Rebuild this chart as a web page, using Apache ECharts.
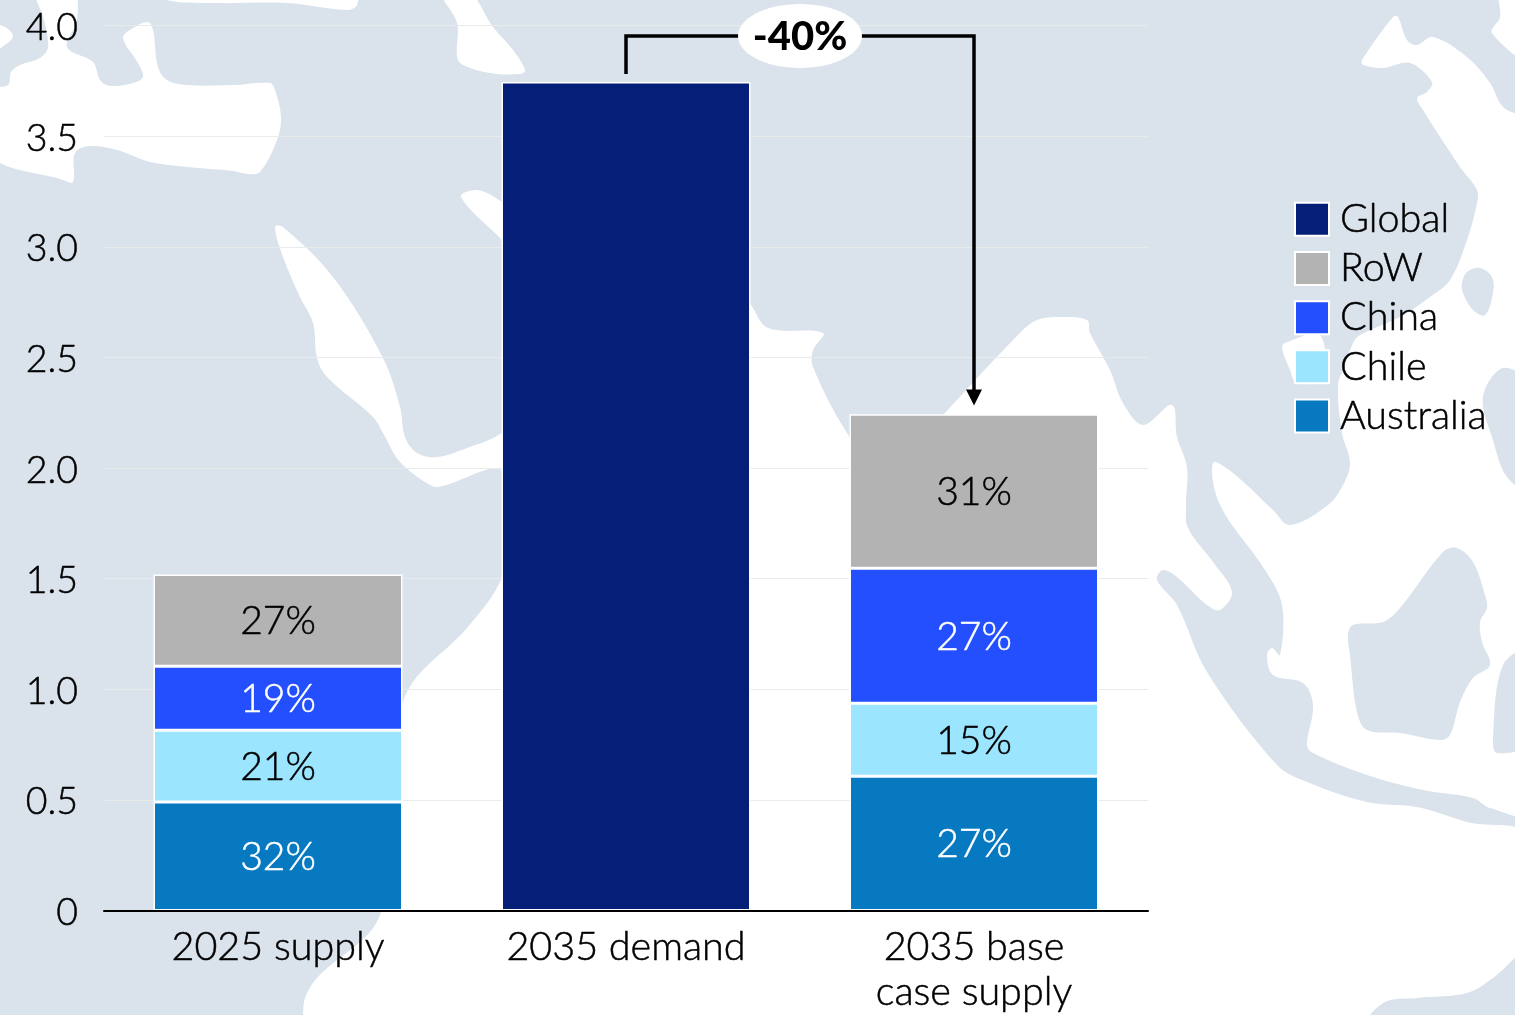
<!DOCTYPE html>
<html>
<head>
<meta charset="utf-8">
<style>html,body{margin:0;padding:0;background:#fff}#chart{width:1515px;height:1015px}</style>
<script src="https://cdn.jsdelivr.net/npm/echarts@6/dist/echarts.min.js"></script>
</head>
<body>
<div id="chart"></div>
<script>
// Chart values
const categories = ['2025 supply', '2035 demand', '2035 base\ncase supply'];
const australia = [0.49, null, 0.607];
const chile = [0.325, null, 0.33];
const china = [0.289, null, 0.61];
const row = [0.415, null, 0.696];
const globalDemand = [null, 3.745, null];
const australiaShare = ['32%', '', '27%'];
const chileShare = ['21%', '', '15%'];
const chinaShare = ['19%', '', '27%'];
const rowShare = ['27%', '', '31%'];
const legendOrder = ['Global', 'RoW', 'China', 'Chile', 'Australia'];
const yTicks = [0, 0.5, 1, 1.5, 2, 2.5, 3, 3.5, 4];
const changeLabel = '-40%';
const bracketLevel = 3.953;

const FONT = 'Lato';
const TEXT_WEIGHT = 300;
const INK = '#000000';
const LAND = '#dae2eb';

// Light type with a hairline outline, for a weight between Lato Light and Regular.
function textOf(size, color) {
  return {
    fontFamily: FONT, fontWeight: TEXT_WEIGHT, fontSize: size, color,
    textBorderColor: color, textBorderWidth: 0.5
  };
}

// Backdrop world map, in page pixels: the land fill, then seas cut out, then islands.
const seas = [
  [[-10,25],[5,27],[13,36],[5,45],[-10,52]],
  [[-10,90],[8,85],[11,72],[20,65],[40,58],[48,47],[44,20],[36,-10],[73,-10],[77,20],[67,47],[93,62],[100,80],[110,86],[133,83],[143,77],[138,63],[123,38],[133,28],[148,22],[153,30],[158,67],[167,80],[187,85],[233,85],[270,83],[275,90],[281,117],[277,140],[260,172],[248,174],[233,171],[187,167],[150,162],[117,150],[90,146],[75,153],[73,182],[63,180],[-10,155]],
  [[167,-10],[167,0],[213,3],[287,3],[347,10],[357,5],[355,-10]],
  [[440,-10],[457,23],[457,57],[463,65],[490,73],[520,74],[525,70],[513,50],[493,27],[468,-10]],
  [[461,197],[477,190],[502,202],[520,220],[520,260],[502,240]],
  [[303,1030],[303,1015],[305,998],[317,978],[380,915],[395,760],[408,690],[467,628],[502,578],[515,520],[502,470],[443,486],[432,486],[400,462],[383,433],[373,417],[327,377],[317,358],[313,323],[300,297],[283,257],[275,227],[283,227],[333,277],[383,358],[400,407],[405,437],[417,453],[437,457],[467,448],[502,433],[600,360],[735,285],[751,305],[768,328],[823,333],[813,350],[813,367],[847,433],[885,480],[945,413],[1020,333],[1037,320],[1060,317],[1087,320],[1090,333],[1110,370],[1123,403],[1143,425],[1172,405],[1177,437],[1187,467],[1186,505],[1188,528],[1213,562],[1232,592],[1220,610],[1207,605],[1177,577],[1163,570],[1157,580],[1177,605],[1207,672],[1277,765],[1307,782],[1367,802],[1417,807],[1467,822],[1530,838],[1530,1030]],
  [[1213,463],[1233,473],[1273,510],[1290,525],[1328,505],[1343,485],[1350,463],[1342,433],[1338,386],[1345,365],[1353,343],[1360,335],[1400,317],[1430,297],[1450,280],[1467,240],[1477,203],[1477,190],[1460,167],[1423,110],[1417,98],[1427,92],[1432,82],[1410,63],[1383,68],[1363,65],[1362,60],[1393,17],[1398,17],[1407,40],[1417,45],[1433,37],[1467,57],[1490,83],[1503,107],[1530,125],[1530,812],[1490,808],[1473,798],[1423,790],[1367,775],[1313,753],[1307,745],[1313,705],[1303,683],[1273,675],[1267,655],[1272,648],[1280,655],[1282,605],[1265,570],[1220,505]],
  [[1500,-10],[1500,17],[1492,33],[1530,60],[1530,-10]],
  [[1282,347],[1287,342],[1320,335],[1322,380],[1296,382],[1290,370]]
];
const islands = [
  [[1462,283],[1467,272],[1480,268],[1492,277],[1493,293],[1485,315],[1473,310],[1463,293]],
  [[1483,397],[1503,368],[1530,385],[1530,490],[1507,477],[1493,440]],
  [[1348,635],[1353,625],[1383,622],[1400,608],[1443,552],[1457,548],[1473,562],[1485,595],[1487,608],[1480,622],[1482,642],[1490,665],[1473,678],[1460,702],[1450,735],[1440,740],[1400,733],[1367,730],[1357,712],[1350,655]],
  [[1530,650],[1503,665],[1493,738],[1497,753],[1530,742]],
  [[1530,950],[1493,978],[1467,993],[1417,998],[1383,1003],[1365,1030],[1530,1030]]
];

function areaShape(points, fill, z) {
  return { type: 'polygon', silent: true, z, shape: { points, smooth: 0.35 }, style: { fill } };
}

const chart = echarts.init(document.getElementById('chart'), null, { renderer: 'canvas' });

function stacked(name, values, shares, color, labelColor) {
  return {
    name, type: 'bar', stack: 'total', data: values, barWidth: 249,
    itemStyle: { color, borderColor: '#fff', borderWidth: 1.5 },
    label: {
      show: true, position: 'inside', offset: [0, 1.5],
      ...textOf(39, labelColor),
      formatter: p => shares[p.dataIndex]
    },
    emphasis: { disabled: true }
  };
}

// Bracket from the demand bar down to the supply bar, with the change label on an oval.
function drawBracket(params, api) {
  const from = api.coord([1, globalDemand[1] + 0.036]);
  const topLeft = api.coord([1, bracketLevel]);
  const topRight = api.coord([2, bracketLevel]);
  const supplyTop = australia[2] + chile[2] + china[2] + row[2];
  const tip = api.coord([2, supplyTop + 0.04]);
  const head = 16;
  const midX = (topLeft[0] + topRight[0]) / 2;
  return {
    type: 'group',
    children: [
      { type: 'polyline', shape: { points: [from, topLeft, topRight, [tip[0], tip[1] - head + 2]] },
        style: { stroke: '#000', lineWidth: 3.5, fill: null } },
      { type: 'polygon', shape: { points: [[tip[0] - 8, tip[1] - head], [tip[0] + 8, tip[1] - head], tip] },
        style: { fill: '#000' } },
      { type: 'ellipse', shape: { cx: midX, cy: topLeft[1], rx: 62, ry: 32 }, style: { fill: '#fff' } },
      { type: 'text', x: midX, y: topLeft[1] + 1, style: {
          text: changeLabel, fill: '#000', fontFamily: FONT, fontWeight: 900, fontSize: 40,
          align: 'center', verticalAlign: 'middle' } }
    ]
  };
}

chart.setOption({
  animation: false,
  backgroundColor: '#fff',
  graphic: { elements: [
    { type: 'rect', silent: true, z: -5, shape: { x: 0, y: 0, width: 1515, height: 1015 }, style: { fill: LAND } },
    ...seas.map(p => areaShape(p, '#fff', -4)),
    ...islands.map(p => areaShape(p, LAND, -3))
  ] },
  grid: { left: 104, right: 367, top: 25.5, bottom: 102.5 },
  legend: {
    orient: 'vertical', left: 1289, top: 194,
    data: legendOrder, icon: 'rect',
    itemWidth: 34, itemHeight: 33, itemGap: 8.7,
    selectedMode: false,
    textStyle: { ...textOf(39.5, INK), padding: [0, 0, 0, 6] }
  },
  xAxis: {
    type: 'category', data: categories, z: 3,
    axisLine: { lineStyle: { color: '#000', width: 2 } },
    axisTick: { show: false },
    axisLabel: { ...textOf(39.5, INK), lineHeight: 45, margin: 14.5, interval: 0 }
  },
  yAxis: {
    type: 'value', min: 0, max: 4, interval: 0.5,
    axisLine: { show: false }, axisTick: { show: false },
    splitLine: { lineStyle: { color: '#e8eaec', width: 1 } },
    axisLabel: {
      margin: 26,
      rich: { tick: { ...textOf(37.5, INK), padding: [5, 0, 0, 0] } },
      formatter: v => '{tick|' + (yTicks.includes(v) ? (v === 0 ? '0' : v.toFixed(1)) : '') + '}'
    }
  },
  series: [
    stacked('Australia', australia, australiaShare, '#0679c1', '#fff'),
    stacked('Chile', chile, chileShare, '#9be5ff', INK),
    stacked('China', china, chinaShare, '#244fff', '#fff'),
    stacked('RoW', row, rowShare, '#b3b3b3', INK),
    {
      name: 'Global', type: 'bar', stack: 'total', data: globalDemand, barWidth: 249,
      itemStyle: { color: '#051f78', borderColor: '#fff', borderWidth: 1.5 },
      emphasis: { disabled: true }
    },
    {
      type: 'custom', renderItem: drawBracket, data: [[1, bracketLevel]],
      silent: true, z: 5, clip: false, legendHoverLink: false,
      encode: { x: 0, y: 1 }
    }
  ]
});
</script>
</body>
</html>
